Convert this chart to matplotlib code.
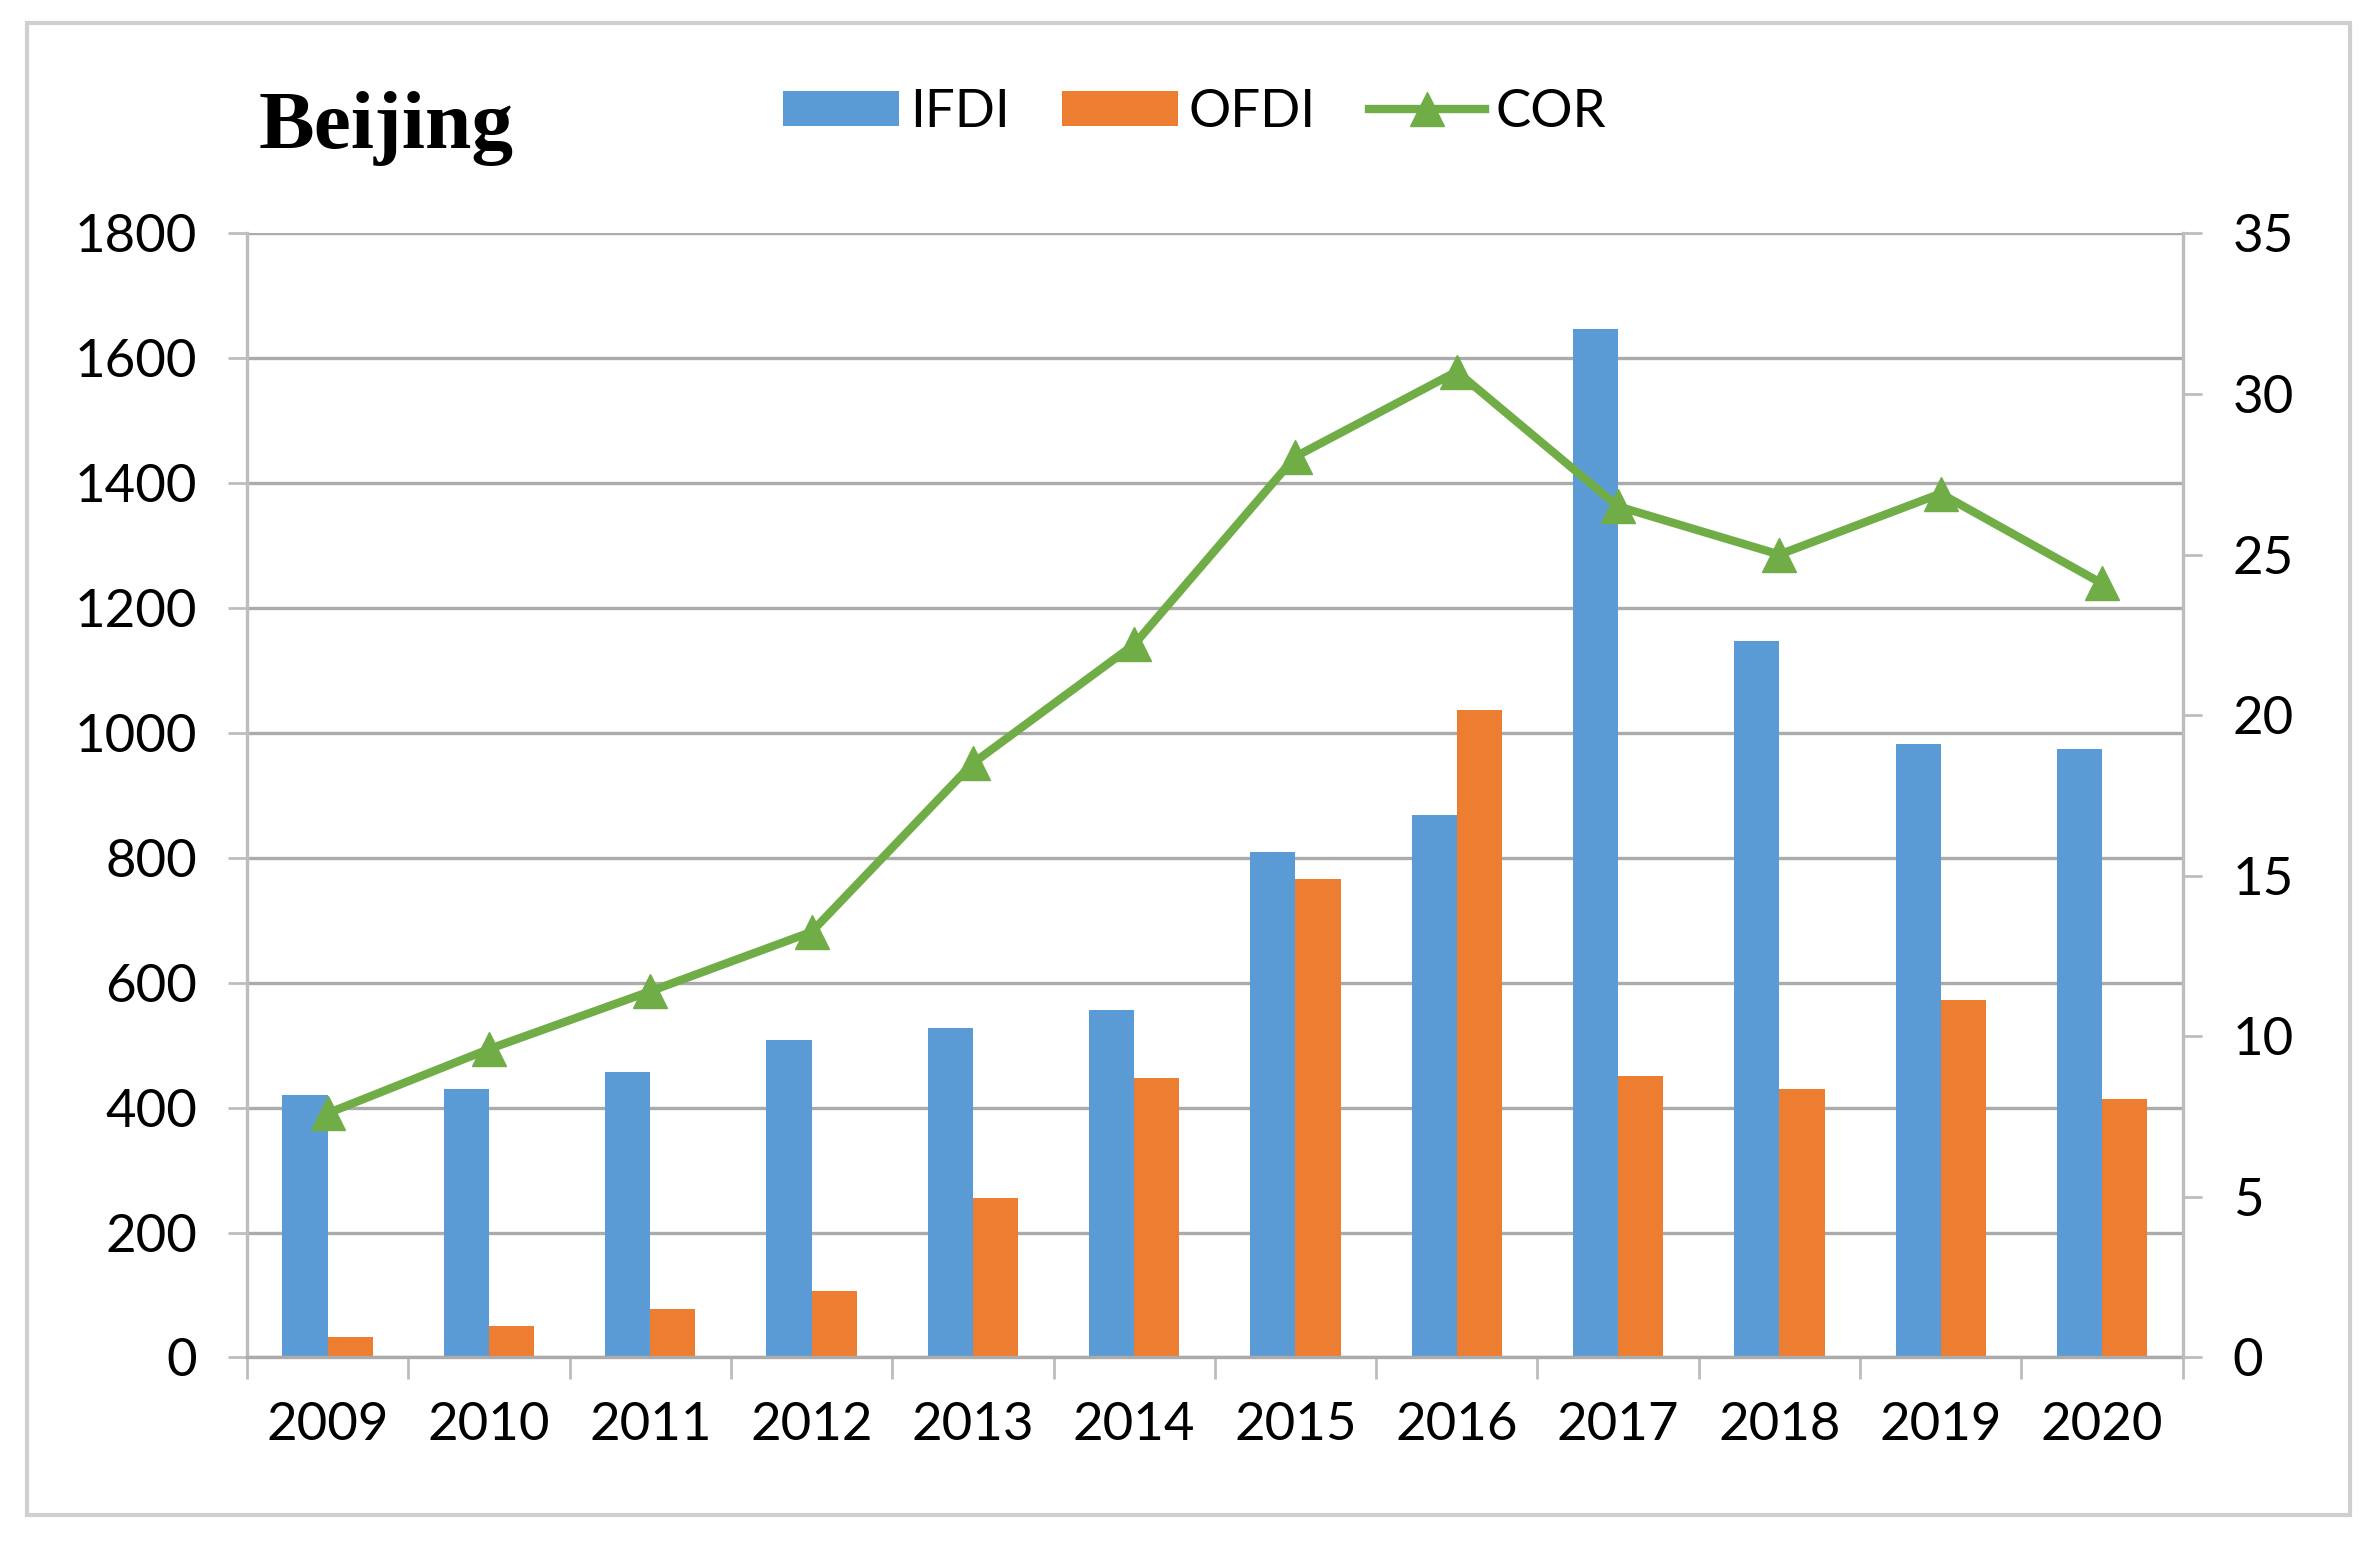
import matplotlib.pyplot as plt
import numpy as np
from matplotlib.patches import Rectangle

# values
years = ['2009', '2010', '2011', '2012', '2013', '2014',
         '2015', '2016', '2017', '2018', '2019', '2020']
ifdi = [421, 430, 457, 508, 528, 557, 810, 868, 1647, 1148, 983, 975]
ofdi = [32, 51, 78, 107, 255, 448, 766, 1036, 450, 430, 572, 414]
cor = [7.6, 9.6, 11.4, 13.25, 18.5, 22.2, 28.05, 30.7, 26.5, 25.0, 26.9, 24.1]

left_ticks = list(range(0, 1801, 200))
right_ticks = list(range(0, 36, 5))

blue = '#5B9BD5'
orange = '#ED7D31'
green = '#70AD47'
grid_c = '#ABABAB'
spine_c = '#BDBDBD'

plt.rcParams['font.family'] = ['Lato', 'DejaVu Sans']
fs = 38

fig = plt.figure(figsize=(23.75, 15.46), dpi=100)
ax = fig.add_axes([0.104, 0.122, 0.815, 0.727])
ax2 = ax.twinx()

x = np.arange(len(years))
w = 0.28
ax.bar(x - w / 2, ifdi, width=w, color=blue, label='IFDI', zorder=2)
ax.bar(x + w / 2, ofdi, width=w, color=orange, label='OFDI', zorder=2)
ax2.plot(x, cor, color=green, lw=6, marker='^', markersize=24,
         label='COR', zorder=3)

ax.set_xlim(-0.5, len(years) - 0.5)
ax.set_ylim(0, 1800)
ax2.set_ylim(0, 35)
ax.set_yticks(left_ticks)
ax2.set_yticks(right_ticks)
ax.set_xticks(x)
ax.set_xticklabels(years)
ax.set_xticks(np.arange(-0.5, len(years), 1), minor=True)

ax.set_axisbelow(True)
ax.yaxis.grid(True, color=grid_c, lw=2.4)

for s in ['top', 'right']:
    ax.spines[s].set_visible(False)
for s in ['top', 'left', 'bottom']:
    ax2.spines[s].set_visible(False)
ax.spines['left'].set_color(spine_c)
ax.spines['bottom'].set_color(grid_c)
ax2.spines['right'].set_color(spine_c)
for sp in [ax.spines['left'], ax.spines['bottom'], ax2.spines['right']]:
    sp.set_linewidth(2.4)

ax.tick_params(axis='x', which='major', length=0, pad=32, labelsize=fs)
ax.tick_params(axis='x', which='minor', length=16, width=2, color=spine_c)
ax.tick_params(axis='y', length=14, width=2, color=spine_c, pad=22, labelsize=fs)
ax2.tick_params(axis='y', length=14, width=2, color=spine_c, pad=22, labelsize=fs)

# title
fig.text(0.109, 0.917, 'Beijing', fontsize=60, fontweight='bold',
         family=['Liberation Serif', 'DejaVu Serif'], va='center', ha='left')

# legend
h1, l1 = ax.get_legend_handles_labels()
h2, l2 = ax2.get_legend_handles_labels()
fig.legend(h1 + h2, l1 + l2, loc='center', bbox_to_anchor=(0.503, 0.927),
           ncol=3, frameon=False, fontsize=fs, handlelength=2.2,
           handleheight=0.65, handletextpad=0.2, columnspacing=1.0)

# outer frame
fig.patches.append(Rectangle((0.0115, 0.02), 0.978, 0.965, transform=fig.transFigure,
                             fill=False, edgecolor='#CFCFCF', lw=3))

fig.savefig('out.png', dpi=100)
